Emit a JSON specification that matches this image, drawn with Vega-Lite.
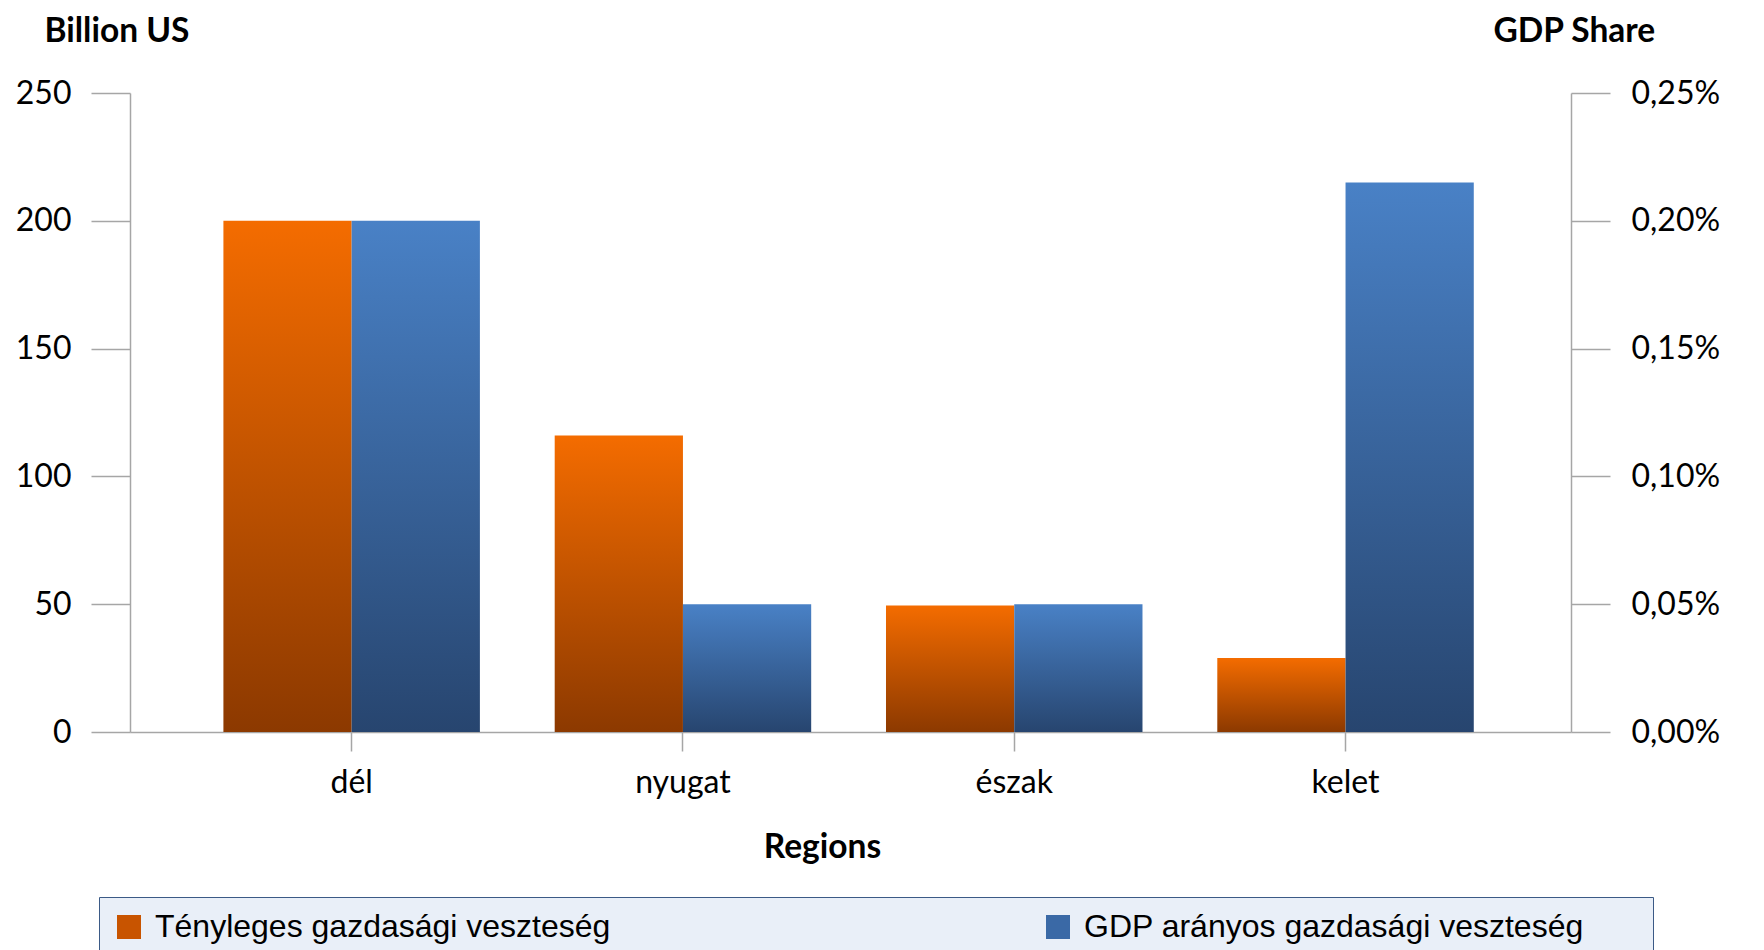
{
  "$schema": "https://vega.github.io/schema/vega-lite/v6.json",
  "width": 1441,
  "height": 639,
  "autosize": {"type": "none"},
  "padding": {"left": 130, "top": 93, "right": 193, "bottom": 218},
  "background": "white",
  "config": {
    "locale": {"number": {"decimal": ",", "thousands": " ", "grouping": [3], "currency": ["", " Ft"]}},
    "view": {"stroke": null},
    "axis": {
      "labelFont": "Lato",
      "labelFontSize": 32,
      "labelColor": "#000000",
      "titleFont": "Lato",
      "titleFontSize": 33.5,
      "titleFontWeight": "bold",
      "titleColor": "#000000",
      "domainColor": "#A6A6A6",
      "domainWidth": 1.5,
      "tickColor": "#A6A6A6",
      "tickWidth": 1.5,
      "grid": false
    }
  },
  "data": {
    "values": [
      {"region": "dél", "series": "Tényleges gazdasági veszteség", "value": 200},
      {"region": "nyugat", "series": "Tényleges gazdasági veszteség", "value": 116},
      {"region": "észak", "series": "Tényleges gazdasági veszteség", "value": 49.5},
      {"region": "kelet", "series": "Tényleges gazdasági veszteség", "value": 29},
      {"region": "dél", "series": "GDP arányos gazdasági veszteség", "value": 0.002},
      {"region": "nyugat", "series": "GDP arányos gazdasági veszteség", "value": 0.0005},
      {"region": "észak", "series": "GDP arányos gazdasági veszteség", "value": 0.0005},
      {"region": "kelet", "series": "GDP arányos gazdasági veszteség", "value": 0.00215}
    ]
  },
  "encoding": {
    "x": {
      "field": "region",
      "type": "nominal",
      "sort": ["dél", "nyugat", "észak", "kelet"],
      "scale": {"paddingInner": 0.2258, "paddingOuter": 0.2877, "align": 0.49},
      "axis": {
        "title": "Regions",
        "labelAngle": 0,
        "tickSize": 19,
        "labelPadding": 16,
        "labelBaseline": "top",
        "titleX": 692,
        "titleY": 125,
        "titleAlign": "center",
        "titleBaseline": "alphabetic"
      }
    },
    "xOffset": {
      "field": "series",
      "type": "nominal",
      "sort": ["Tényleges gazdasági veszteség", "GDP arányos gazdasági veszteség"],
      "scale": {"paddingInner": 0, "paddingOuter": 0}
    }
  },
  "layer": [
    {
      "transform": [{"filter": "datum.series === 'Tényleges gazdasági veszteség'"}],
      "mark": {
        "type": "bar",
        "color": {
          "gradient": "linear", "x1": 0, "y1": 0, "x2": 0, "y2": 1,
          "stops": [{"offset": 0, "color": "#F46C00"}, {"offset": 1, "color": "#8C3900"}]
        }
      },
      "encoding": {
        "y": {
          "field": "value",
          "type": "quantitative",
          "scale": {"domain": [0, 250], "nice": false},
          "axis": {
            "orient": "left",
            "title": "Billion US",
            "values": [0, 50, 100, 150, 200, 250],
            "tickSize": 39,
            "labelPadding": 20,
            "titleAngle": 0,
            "titleAlign": "left",
            "titleBaseline": "alphabetic",
            "titleX": -86,
            "titleY": -52
          }
        }
      }
    },
    {
      "transform": [{"filter": "datum.series === 'GDP arányos gazdasági veszteség'"}],
      "mark": {
        "type": "bar",
        "color": {
          "gradient": "linear", "x1": 0, "y1": 0, "x2": 0, "y2": 1,
          "stops": [{"offset": 0, "color": "#4981C6"}, {"offset": 1, "color": "#27456F"}]
        }
      },
      "encoding": {
        "y": {
          "field": "value",
          "type": "quantitative",
          "scale": {"domain": [0, 0.0025], "nice": false},
          "axis": {
            "orient": "right",
            "title": "GDP Share",
            "format": ".2%",
            "values": [0, 0.0005, 0.001, 0.0015, 0.002, 0.0025],
            "tickSize": 39,
            "labelPadding": 21,
            "titleAngle": 0,
            "titleAlign": "left",
            "titleBaseline": "alphabetic",
            "titleX": -78,
            "titleY": -52
          }
        }
      }
    },
    {
      "mark": {"type": "point", "opacity": 0, "filled": true},
      "encoding": {
        "color": {
          "field": "series",
          "type": "nominal",
          "scale": {
            "domain": ["Tényleges gazdasági veszteség", "GDP arányos gazdasági veszteség"],
            "range": ["#C85400", "#3A69A6"]
          },
          "legend": {
            "orient": "none",
            "legendX": -31,
            "legendY": 804,
            "direction": "horizontal",
            "columns": 2,
            "title": null,
            "labelFont": "Liberation Sans",
            "labelFontSize": 32,
            "labelColor": "#000000",
            "labelLimit": 1000,
            "labelExpr": "datum.value === 'GDP arányos gazdasági veszteség' ? datum.label + '\u2800\u00a0\u2800' : datum.label",
            "symbolType": "square",
            "symbolSize": 576,
            "symbolOpacity": 1,
            "symbolStrokeWidth": 0,
            "labelOffset": 10,
            "padding": 14,
            "columnPadding": 431,
            "fillColor": "#E9EFF8",
            "strokeColor": "#3B5A86"
          }
        }
      }
    }
  ],
  "resolve": {"scale": {"y": "independent"}}
}
